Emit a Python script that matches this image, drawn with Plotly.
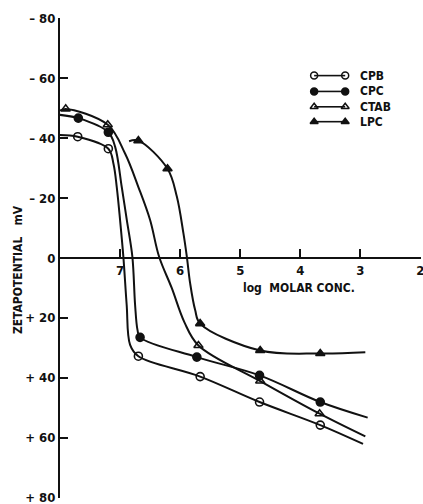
import plotly.graph_objects as go

# Zeta potential (mV) against log molar concentration for four surfactants.
# Measured points (markers)
cpb_x = [7.705, 7.195, 6.695, 5.667, 4.678, 3.667]
cpb_v = [-40.5, -36.5, 32.8, 39.6, 48.1, 55.8]
cpc_x = [7.695, 7.195, 6.667, 5.722, 4.678, 3.667]
cpc_v = [-46.7, -42.0, 26.5, 33.1, 39.2, 48.1]
ctab_x = [7.905, 7.205, 5.695, 4.667, 3.678]
ctab_v = [-49.8, -44.5, 29.2, 41.1, 52.0]
lpc_x = [6.695, 6.21, 5.667, 4.667, 3.667]
lpc_v = [-39.2, -29.8, 21.9, 30.9, 31.9]

# Hand-drawn fitted curves through the points
cpb_cx = [8.0, 7.705, 7.195, 7.11, 7.055, 7.0, 6.945, 6.89, 6.833, 6.695, 5.667, 4.678, 3.667, 2.955]
cpb_cv = [-41.1, -40.5, -36.5, -31.5, -23.7, -12.7, -0.4, 15.6, 29.0, 32.8, 39.6, 48.1, 55.8, 62.1]
cpc_cx = [8.0, 7.695, 7.195, 7.083, 6.972, 6.888, 6.795, 6.75, 6.71, 6.667, 5.722, 4.678, 3.667, 2.878]
cpc_cv = [-47.8, -46.7, -42.0, -37.2, -23.7, -12.7, -0.4, 15.6, 24.0, 26.5, 33.1, 39.2, 48.1, 53.3]
ctab_cx = [8.0, 7.905, 7.205, 6.917, 6.695, 6.5, 6.35, 6.14, 5.93, 5.695, 4.667, 3.678, 2.917]
ctab_cv = [-49.2, -49.8, -44.5, -34.9, -23.7, -12.7, -0.4, 10.0, 21.4, 29.2, 41.1, 52.0, 59.6]
lpc_cx = [6.85, 6.695, 6.21, 6.055, 5.945, 5.888, 5.833, 5.75, 5.667, 4.667, 3.667, 2.917]
lpc_cv = [-39.0, -39.2, -29.8, -20.5, -8.2, -0.4, 8.5, 17.4, 21.9, 30.9, 31.9, 31.5]

names = ["CPB", "CPC", "CTAB", "LPC"]
symbols = ["circle-open", "circle", "triangle-up-open", "triangle-up"]

x_ticks = [7, 6, 5, 4, 3, 2]
y_ticks = [-80, -60, -40, -20, 0, 20, 40, 60, 80]
y_ticktext = ["\u2013 80", "\u2013 60", "\u2013 40", "\u2013 20", "0", "+ 20", "+ 40", "+ 60", "+ 80"]

INK = "#111111"
FONT = "DejaVu Sans Condensed, DejaVu Sans, sans-serif"

fig = go.Figure()

curves = [(cpb_cx, cpb_cv), (cpc_cx, cpc_cv), (ctab_cx, ctab_cv), (lpc_cx, lpc_cv)]
points = [(cpb_x, cpb_v), (cpc_x, cpc_v), (ctab_x, ctab_v), (lpc_x, lpc_v)]

for (cx, cv) in curves:
    fig.add_trace(go.Scatter(x=cx, y=cv, mode="lines",
                             line=dict(color=INK, width=2, shape="spline", smoothing=1.0),
                             showlegend=False, hoverinfo="skip"))

for (px, pv), sym in zip(points, symbols):
    fig.add_trace(go.Scatter(x=px, y=pv, mode="markers",
                             marker=dict(symbol=sym, size=8, color=INK,
                                         line=dict(color=INK, width=1.6)),
                             showlegend=False))

# Key in the upper right: line sample with a marker at both ends
key_x = [0.704, 0.79]
key_y = [0.880, 0.847, 0.815, 0.784]
for name, sym, ky in zip(names, symbols, key_y):
    fig.add_trace(go.Scatter(x=key_x, y=[ky, ky], xaxis="x2", yaxis="y2",
                             mode="lines+markers",
                             line=dict(color=INK, width=1.6),
                             marker=dict(symbol=sym, size=7, color=INK,
                                         line=dict(color=INK, width=1.5)),
                             showlegend=False, hoverinfo="skip"))
    fig.add_annotation(x=0.826, y=ky, xref="paper", yref="paper", text=name,
                       showarrow=False, xanchor="left", yanchor="middle",
                       font=dict(family=FONT, size=12, color=INK, weight="bold"))

fig.add_annotation(x=0.663, y=0.437, xref="paper", yref="paper", text="log  MOLAR CONC.",
                   showarrow=False, xanchor="center", yanchor="middle",
                   font=dict(family=FONT, size=12, color=INK, weight="bold"))
fig.add_annotation(x=-0.116, y=0.475, xref="paper", yref="paper",
                   text="ZETAPOTENTIAL   mV", textangle=-90,
                   showarrow=False, xanchor="center", yanchor="middle",
                   font=dict(family=FONT, size=12, color=INK, weight="bold"))

fig.update_layout(
    width=423, height=504,
    margin=dict(l=60, r=2, t=18, b=6, autoexpand=False),
    paper_bgcolor="white", plot_bgcolor="white",
    showlegend=False,
    xaxis=dict(range=[8, 1.99], anchor="free", position=0.5, side="bottom",
               tickvals=x_ticks, ticktext=[str(t) for t in x_ticks],
               ticks="inside", ticklen=8, tickwidth=2, tickcolor=INK,
               ticklabeloverflow="allow", automargin=False,
               showline=True, linecolor=INK, linewidth=2,
               showgrid=False, zeroline=False,
               tickfont=dict(family=FONT, size=13, color=INK, weight="bold")),
    yaxis=dict(range=[80.15, -80.15],
               tickvals=y_ticks, ticktext=y_ticktext,
               ticks="inside", ticklen=8, tickwidth=2, tickcolor=INK,
               ticklabeloverflow="allow", automargin=False,
               showline=True, linecolor=INK, linewidth=2,
               showgrid=False, zeroline=False,
               tickfont=dict(family=FONT, size=13, color=INK, weight="bold")),
    xaxis2=dict(range=[0, 1], overlaying="x", visible=False),
    yaxis2=dict(range=[0, 1], overlaying="y", visible=False),
)

fig.write_html("out.html")
